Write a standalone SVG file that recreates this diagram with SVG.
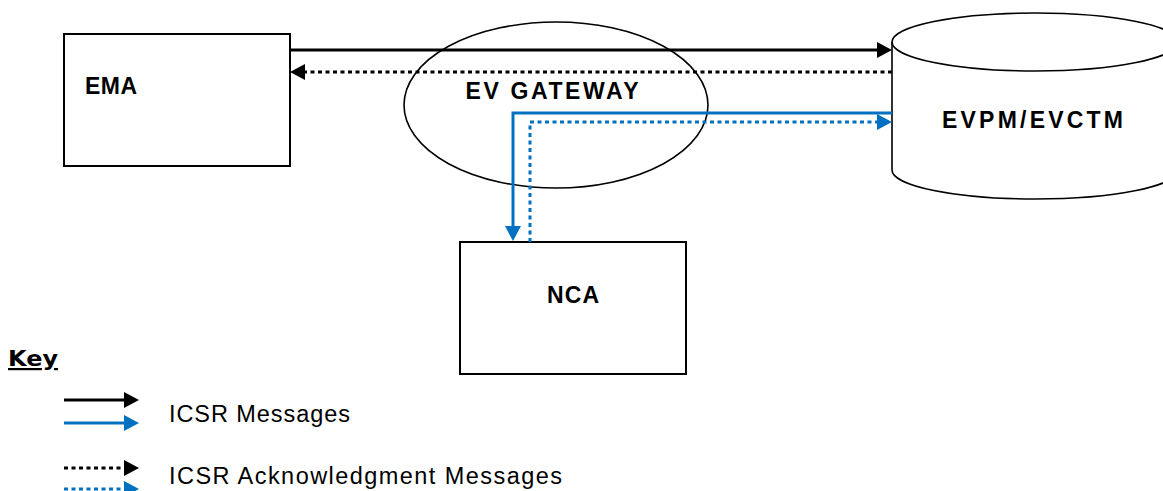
<svg xmlns="http://www.w3.org/2000/svg" width="1163" height="491" viewBox="0 0 1163 491">
<style>
.box{fill:#fff;stroke:#000;stroke-width:2}
.shape{fill:#fff;stroke:#000;stroke-width:1.6}
.lbl{font-family:"Liberation Sans",Arial,sans-serif;font-weight:bold;font-size:23px;fill:#000}
.kh{font-family:"DejaVu Sans",Verdana,sans-serif;font-weight:bold;font-size:22px;fill:#000}
.key{font-family:"Liberation Sans",Arial,sans-serif;font-size:23.5px;fill:#000}
.blk{fill:none;stroke:#000;stroke-width:3}
.blu{fill:none;stroke:#0070C0;stroke-width:3;stroke-linejoin:miter}
.dot{stroke-dasharray:4 3.5}
</style>
<defs>
<marker id="ab" markerUnits="userSpaceOnUse" markerWidth="16" markerHeight="16" refX="5" refY="8" orient="auto"><path d="M0,0 L15,8 L0,16 Z" fill="#000"/></marker>
<marker id="au" markerUnits="userSpaceOnUse" markerWidth="16" markerHeight="16" refX="5" refY="8" orient="auto"><path d="M0,0 L15,8 L0,16 Z" fill="#0070C0"/></marker>
</defs>
<g id="ema"><rect class="box" x="64" y="34" width="226" height="132"/><text class="lbl" x="85" y="94" textLength="52" lengthAdjust="spacing">EMA</text></g>
<g id="gateway"><ellipse cx="556" cy="105" rx="152" ry="83" fill="none" stroke="#000" stroke-width="1.6"/><text class="lbl" x="552" y="99" text-anchor="middle" textLength="173" lengthAdjust="spacing">EV GATEWAY</text></g>
<g id="evpm"><path class="shape" d="M892,42 V170 A143,29 0 0 0 1178,170 V42"/><ellipse class="shape" cx="1035" cy="42" rx="143" ry="29"/><text class="lbl" x="942" y="128" textLength="181" lengthAdjust="spacing">EVPM/EVCTM</text></g>
<g id="nca"><rect class="box" x="460" y="242" width="226" height="132"/><text class="lbl" x="573" y="303" text-anchor="middle" textLength="52" lengthAdjust="spacing">NCA</text></g>
<g id="connectors">
<path class="blk" d="M290,50 H882" marker-end="url(#ab)"/>
<path class="blk dot" d="M892,72 H300" marker-end="url(#ab)"/>
<path class="blu" d="M892,113 H513 V231" marker-end="url(#au)"/>
<path class="blu dot" d="M530,242 V122 H882" marker-end="url(#au)"/>
</g>
<g id="key">
<text class="kh" x="8" y="366" text-decoration="underline" textLength="50" lengthAdjust="spacingAndGlyphs">Key</text>
<path class="blk" d="M64,400 H129" marker-end="url(#ab)"/>
<path class="blu" d="M64,423 H129" marker-end="url(#au)"/>
<path class="blk dot" d="M64,468 H129" marker-end="url(#ab)"/>
<path class="blu dot" d="M64,489 H129" marker-end="url(#au)"/>
<text class="key" x="169" y="422" textLength="181" lengthAdjust="spacing">ICSR Messages</text>
<text class="key" x="169" y="484" textLength="393" lengthAdjust="spacing">ICSR Acknowledgment Messages</text>
</g>
</svg>
